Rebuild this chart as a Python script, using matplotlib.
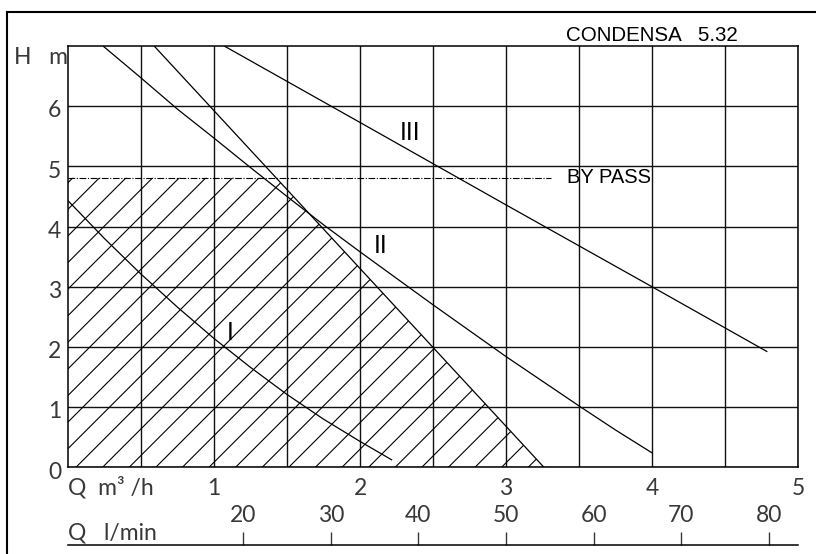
import numpy as np
import matplotlib
matplotlib.use("Agg")
import matplotlib.pyplot as plt
import matplotlib.transforms as mtransforms
from matplotlib.font_manager import FontProperties
from matplotlib.patches import Polygon, Rectangle
from matplotlib.collections import LineCollection

# pump curves, Q in m3/h, H in m
q_I = [0, 0.25, 0.5, 0.75, 1.0, 1.25, 1.5, 1.75, 2.0, 2.22]
h_I = [4.43, 3.80, 3.21, 2.66, 2.14, 1.66, 1.21, 0.80, 0.43, 0.12]

q_II = [0.24, 0.5, 0.75, 1.0, 1.25, 1.5, 1.75, 2.0, 2.25, 2.5, 2.75, 3.0, 3.25, 3.5, 3.75, 4.0]
h_II = [7.0, 6.47, 5.95, 5.47, 4.98, 4.50, 4.03, 3.58, 3.14, 2.70, 2.27, 1.84, 1.43, 1.02, 0.62, 0.24]

q_III = [1.07, 2.0, 3.0, 4.0, 4.79]
h_III = [7.0, 5.73, 4.36, 3.0, 1.92]

# limit line, right edge of the hatched area
q_lim = [0.59, 3.26]
h_lim = [7.0, 0.0]

bypass_h = 4.81
bypass_q_end = 3.31

curve_names = ["I", "II", "III"]
name_q = [1.11, 2.14, 2.34]
name_h = [2.23, 3.67, 5.55]

x_ticks = [1, 2, 3, 4, 5]
y_ticks = [0, 1, 2, 3, 4, 5, 6]
lpm_ticks = [20, 30, 40, 50, 60, 70, 80]

W, H = 816, 554
fig = plt.figure(figsize=(W / 100, H / 100), dpi=100)
ax = fig.add_axes([68 / W, (H - 467.3) / H, (798 - 68) / W, (467.3 - 46) / H])
ax.set_xlim(0, 5)
ax.set_ylim(0, 7)

tick_fp = FontProperties(family=["Lato", "DejaVu Sans"], size=16.5)
tick_col = "#383838"
text_font = dict(family=["Liberation Sans", "DejaVu Sans"], color="black")

# grid
ax.set_xticks(x_ticks)
ax.set_xticks(np.arange(0.5, 5, 1.0), minor=True)
ax.set_yticks(y_ticks)
ax.grid(which="both", color="#111111", linewidth=1.0)
ax.set_axisbelow(True)
ax.tick_params(which="both", length=0)
ax.tick_params(axis="x", pad=8)
ax.tick_params(axis="y", pad=5)
for sp in ax.spines.values():
    sp.set_linewidth(1.1)
for lab in ax.get_xticklabels() + ax.get_yticklabels():
    lab.set_fontproperties(tick_fp)
    lab.set_color(tick_col)
shift = mtransforms.ScaledTranslation(0, -2 / 72, fig.dpi_scale_trans)
for lab in ax.get_yticklabels():
    lab.set_transform(lab.get_transform() + shift)

# hatched working area
q_cross = np.interp(bypass_h, h_lim[::-1], q_lim[::-1])
area = Polygon([(0, 0), (0, bypass_h), (q_cross, bypass_h), (q_lim[-1], 0)],
               closed=True, facecolor="none", edgecolor="none")
ax.add_patch(area)
ppx = 730 / 5
ppy = 421.3 / 7
k = ppx / ppy
step = 26.6 / ppx
cs = np.arange(0.025 - 7 / k - step * 2, q_lim[-1] + step, step)
segs = [[(c, 0), (c + 7 / k, 7)] for c in cs]
hatch = LineCollection(segs, colors="black", linewidths=0.8)
ax.add_collection(hatch)
hatch.set_clip_path(area)

# curves
for q, h in [(q_I, h_I), (q_II, h_II), (q_III, h_III), (q_lim, h_lim)]:
    ax.plot(q, h, color="black", linewidth=0.9, solid_capstyle="butt")

ax.plot([0, bypass_q_end], [bypass_h, bypass_h], color="black", linewidth=0.8,
        linestyle=(0, (6, 1.5, 1, 1.5)))
ax.text(3.415, bypass_h, "BY PASS", fontsize=14.5, va="center", ha="left", **text_font)

for name, q, h in zip(curve_names, name_q, name_h):
    ax.text(q, h, name, fontsize=18, ha="center", va="center", **text_font)

ax.text(3.41, 7.18, "CONDENSA   5.32", fontsize=14.8, ha="left", va="center",
        clip_on=False, **text_font)

ax.annotate("H   m", xy=(0, 7), xytext=(0, -8), textcoords="offset points",
            ha="right", va="center", fontproperties=tick_fp, color=tick_col)
ax.annotate("Q  m³ /h", xy=(0, 0), xytext=(0, -14.5), textcoords="offset points",
            ha="left", va="center", fontproperties=tick_fp, color=tick_col)
ax.annotate("Q   l/min", xy=(0, 0), xytext=(0, -47.5), textcoords="offset points",
            ha="left", va="center", fontproperties=tick_fp, color=tick_col)

# flow scale in l/min
secax = ax.secondary_xaxis(-0.1844, functions=(lambda q: q * 1000 / 60, lambda l: l * 60 / 1000))
secax.set_alignment("top")
secax.set_xticks(lpm_ticks)
secax.tick_params(direction="out", length=9.4, width=1.0, color=tick_col, pad=4)
secax.spines["top"].set_linewidth(1.1)
for lab in secax.get_xticklabels():
    lab.set_fontproperties(tick_fp)
    lab.set_color(tick_col)

# outer frame
fig.add_artist(Rectangle((6.7 / W, -0.2), 1.5, 1.2 - 12 / H, transform=fig.transFigure,
                         fill=False, edgecolor="black", linewidth=1.5))

fig.savefig("out.png", dpi=100)
